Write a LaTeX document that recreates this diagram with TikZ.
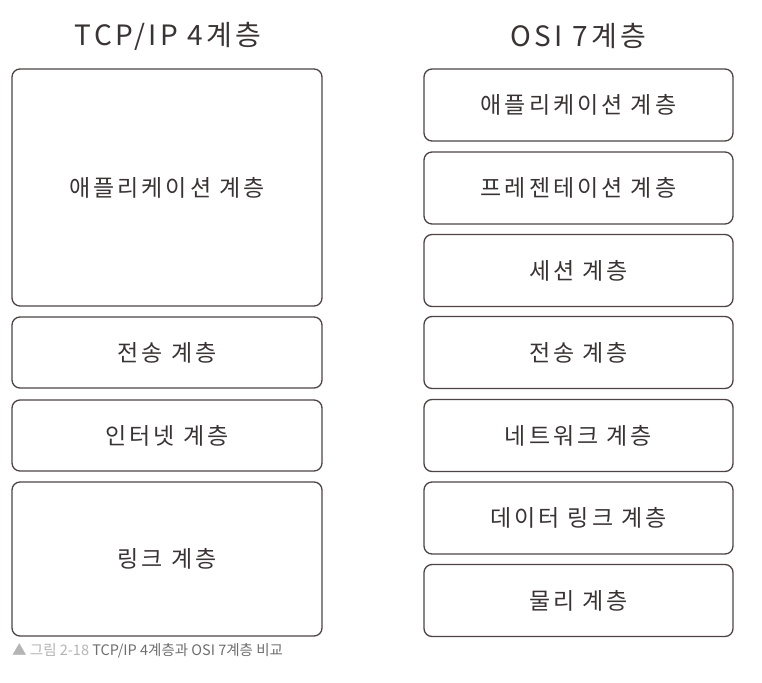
\documentclass[tikz,border=0pt]{standalone}
\usepackage{fontspec}
\setmainfont{Noto Sans CJK KR}
\definecolor{boxline}{HTML}{4D4343}
\definecolor{boxtext}{HTML}{3A3333}
\definecolor{capfaint}{HTML}{B4B4B4}
\definecolor{capdark}{HTML}{6E6E6E}
\begin{document}
\begin{tikzpicture}[
    x=1pt, y=-1pt,
    title/.style={font=\fontsize{28}{31}\selectfont\addfontfeatures{LetterSpace=12}, text=boxtext},
    layerbox/.style={rectangle, draw=boxline, line width=1.3pt, rounded corners=8pt,
        inner sep=0pt, text=boxtext, font=\fontsize{23}{26}\selectfont\addfontfeatures{LetterSpace=13}},
    tcpbox/.style={layerbox, minimum width=310pt},
    osibox/.style={layerbox, minimum width=309pt, minimum height=72pt}
]
\useasboundingbox (0,0) rectangle (762,682);

% Titles
\node[title] (tcptitle) at (168, 36) {TCP/IP 4계층};
\node[title] (osititle) at (578.5, 36) {OSI 7계층};

% TCP/IP 4 layers
\node[tcpbox, minimum height=237pt] (tcpapp) at (167, 187.5) {애플리케이션 계층};
\node[tcpbox, minimum height=71pt] (tcptrans) at (167, 352.5) {전송 계층};
\node[tcpbox, minimum height=71pt] (tcpnet) at (167, 435.5) {인터넷 계층};
\node[tcpbox, minimum height=154pt] (tcplink) at (167, 559) {링크 계층};

% OSI 7 layers
\node[osibox] (osiapp) at (578.5, 105) {애플리케이션 계층};
\node[osibox] (osipres) at (578.5, 188) {프레젠테이션 계층};
\node[osibox] (osisess) at (578.5, 270.5) {세션 계층};
\node[osibox] (ositrans) at (578.5, 352.5) {전송 계층};
\node[osibox] (osinet) at (578.5, 435.5) {네트워크 계층};
\node[osibox] (osilink) at (578.5, 518) {데이터 링크 계층};
\node[osibox] (osiphys) at (578.5, 600.5) {물리 계층};

% Caption
\node[anchor=west, inner sep=0pt, font=\fontsize{14.5}{16}\selectfont] (caption) at (12, 651)
    {\textcolor{capfaint}{▲ 그림 2-18} \textcolor{capdark}{TCP/IP 4계층과 OSI 7계층 비교}};
\end{tikzpicture}
\end{document}
